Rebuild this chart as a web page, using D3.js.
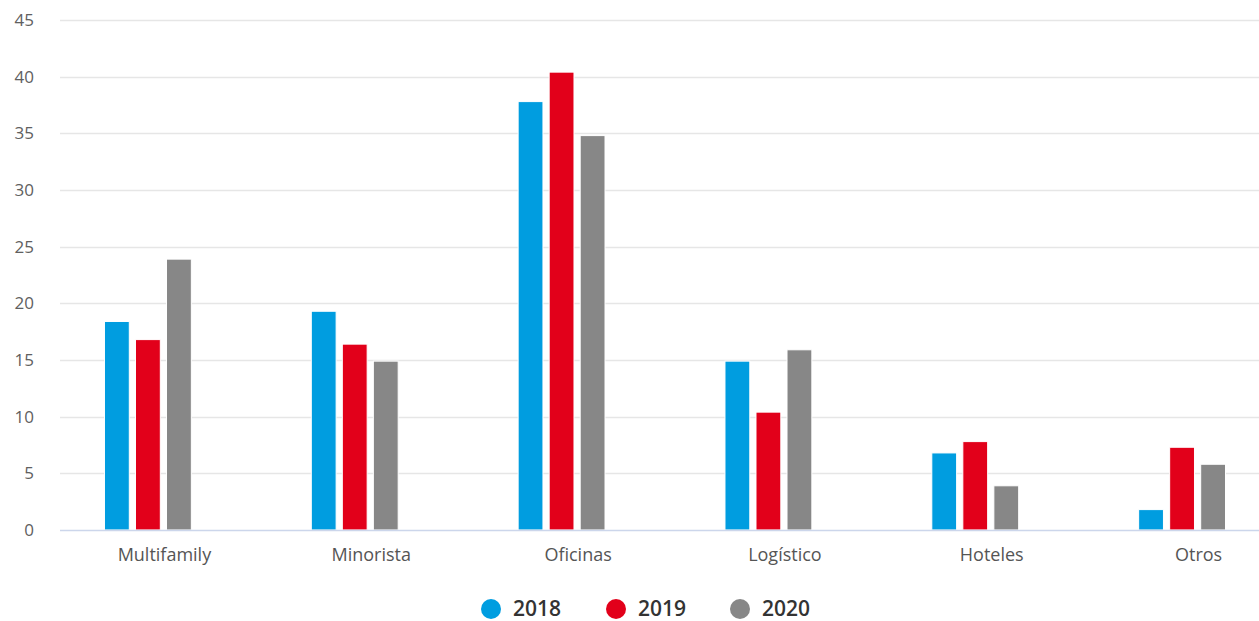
<!DOCTYPE html>
<html><head><meta charset="utf-8">
<script src="https://cdn.jsdelivr.net/npm/d3@7"></script>
<style>body{margin:0;background:#fff;}svg{display:block;font-family:"Open Sans",sans-serif;}</style>
</head><body><svg id="c" width="1259" height="621"></svg>
<script>
const categories = ["Multifamily","Minorista","Oficinas","Logístico","Hoteles","Otros"];
const seriesNames = ["2018","2019","2020"];
const values2018 = [18.4, 19.3, 37.8, 14.9, 6.8, 1.8];
const values2019 = [16.8, 16.4, 40.4, 10.4, 7.8, 7.3];
const values2020 = [23.9, 14.9, 34.8, 15.9, 3.9, 5.8];
const colors = ["#009de0","#e2001a","#878787"];
const yTicks = [0,5,10,15,20,25,30,35,40,45];

(function(){
const allValues = [values2018, values2019, values2020];
const svg = d3.select("#c");
const pl = 60, pr = 1301, pt = 20, pb = 530;
const x0 = d3.scaleBand().domain(categories).range([pl, pr]).paddingInner(0).paddingOuter(0);
const y = d3.scaleLinear().domain([0,45]).range([pb, pt]);
// 4 slots per group (one empty slot as in the original layout)
const x1 = d3.scaleBand().domain([0,1,2,3]).range([0, x0.bandwidth()*0.6]).paddingInner(0.2).paddingOuter(0.1);
const groupOff = x0.bandwidth()*0.2;

svg.append("g").selectAll("line").data(yTicks.filter(d=>d>0)).join("line")
  .attr("x1", pl).attr("x2", 1259).attr("y1", d=>Math.round(y(d))+0.5).attr("y2", d=>Math.round(y(d))+0.5)
  .attr("stroke","#e6e6e6").attr("stroke-width",1.5);

svg.append("g").selectAll("text").data(yTicks).join("text")
  .attr("x", 34).attr("y", d=>y(d)).attr("dy","0.35em").attr("text-anchor","end")
  .attr("fill","#606060").attr("font-size","17px").text(d=>d);

allValues.forEach((vals, si) => {
  svg.append("g").selectAll("rect").data(vals).join("rect")
    .attr("x", (d,i)=>x0(categories[i]) + groupOff + x1(si))
    .attr("width", x1.bandwidth())
    .attr("y", d=>y(d)).attr("height", d=>pb - y(d))
    .attr("fill", colors[si]).attr("stroke","#fff").attr("stroke-width",1);
});

svg.append("line").attr("x1", pl).attr("x2", 1259).attr("y1", pb+0.5).attr("y2", pb+0.5)
  .attr("stroke","#ccd6eb").attr("stroke-width",1.5);

svg.append("g").selectAll("text").data(categories).join("text")
  .attr("x", d=>x0(d)+x0.bandwidth()/2 + 1).attr("y", 555).attr("dy","0.35em").attr("text-anchor","middle")
  .attr("fill","#555").attr("font-size","18px").text(d=>d);

const legX = [491, 616, 740];
const leg = svg.append("g").selectAll("g").data(seriesNames).join("g")
  .attr("transform", (d,i)=>`translate(${legX[i]},609)`);
leg.append("circle").attr("r",10).attr("fill",(d,i)=>colors[i]);
leg.append("text").attr("x",22).attr("dy","0.35em").attr("font-size","21px").attr("font-weight","600")
  .attr("fill","#333").text(d=>d);
})();
</script></body></html>
